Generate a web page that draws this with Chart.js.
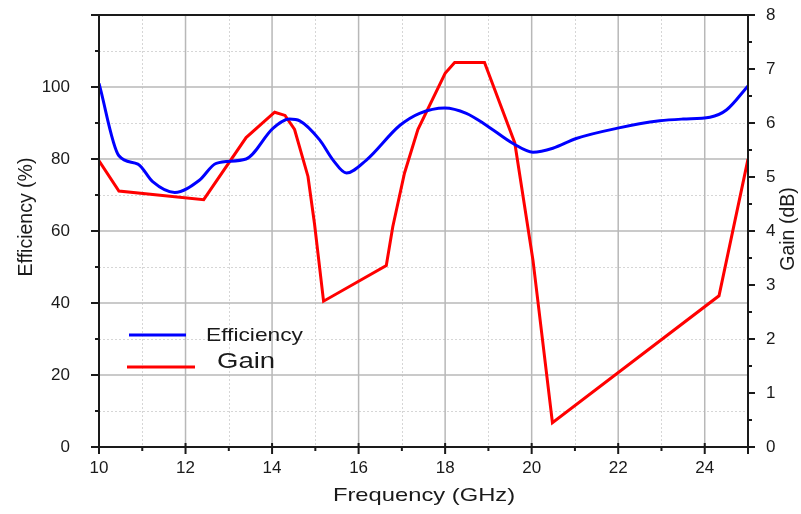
<!DOCTYPE html>
<html>
<head>
<meta charset="utf-8">
<script src="https://cdn.jsdelivr.net/npm/chart.js@4.4.0/dist/chart.umd.min.js"></script>
<style>
  html, body { margin: 0; padding: 0; background: #fff; }
  #wrap { width: 801px; height: 514px; position: relative; }
</style>
</head>
<body>
<div id="wrap"><canvas id="grafica"></canvas></div>
<script>
// Valores
const freqEficiencia = [10, 10.46, 10.9, 11.24, 11.75, 12.32, 12.71, 13.4, 14.02, 14.4, 14.64, 15.1, 15.41, 15.72, 16.18, 16.95, 17.41, 17.99, 18.49, 18.95, 19.57, 20.03, 20.49, 21.03, 21.96, 22.96, 23.5, 24.12, 24.5, 25];
const eficiencia = [101, 80.9, 78.6, 73.7, 70.7, 74.1, 78.8, 80.0, 88.5, 91.1, 90.6, 85.3, 79.7, 76.1, 79.7, 89.3, 92.7, 94.2, 92.7, 89.4, 84.3, 81.9, 83.0, 85.7, 88.5, 90.6, 91.1, 91.6, 93.6, 100.3];

const freqGanancia = [10, 10.46, 12.42, 13.4, 14.06, 14.3, 14.52, 14.83, 14.98, 15.19, 16.64, 16.79, 17.06, 17.37, 18.0, 18.22, 18.91, 19.61, 20.03, 20.48, 24.33, 25];
const ganancia = [5.30, 4.74, 4.58, 5.73, 6.20, 6.14, 5.88, 5.01, 4.14, 2.70, 3.36, 4.08, 5.07, 5.88, 6.92, 7.12, 7.12, 5.63, 3.46, 0.45, 2.80, 5.33];

const ticksX = [10, 12, 14, 16, 18, 20, 22, 24];
const ticksEficiencia = [0, 20, 40, 60, 80, 100];
const ticksGanancia = [0, 1, 2, 3, 4, 5, 6, 7, 8];

const fuente = '"Liberation Sans", Arial, sans-serif';
const colorTexto = '#1a1a1a';

function linea(ctx, x1, y1, x2, y2) {
    ctx.beginPath();
    ctx.moveTo(x1, y1);
    ctx.lineTo(x2, y2);
    ctx.stroke();
}

// texto estirado en horizontal como en la imagen original
function texto(ctx, t, x, y, size, estirar, rot, align) {
    ctx.save();
    ctx.translate(x, y);
    if (rot) ctx.rotate(rot);
    ctx.scale(estirar, 1);
    ctx.font = size + 'px ' + fuente;
    ctx.fillStyle = colorTexto;
    ctx.textAlign = align || 'center';
    ctx.textBaseline = 'alphabetic';
    ctx.fillText(t, 0, 0);
    ctx.restore();
}

// rejilla, marco, marcas, titulos y leyenda
const marco = {
    id: 'marco',
    beforeDatasetsDraw(chart) {
        const { ctx, chartArea: a, scales } = chart;
        const x = scales.x, y = scales.y;
        ctx.save();
        ctx.lineWidth = 1;
        ctx.strokeStyle = '#d6d6d6';
        ctx.setLineDash([2, 2]);
        for (let v = 11; v < 25; v += 2) {
            const px = Math.round(x.getPixelForValue(v)) + 0.5;
            linea(ctx, px, a.top, px, a.bottom);
        }
        for (let v = 10; v < 120; v += 20) {
            const py = Math.round(y.getPixelForValue(v)) + 0.5;
            linea(ctx, a.left, py, a.right, py);
        }
        ctx.setLineDash([]);
        ctx.strokeStyle = '#b8b8b8';
        ctx.lineWidth = 1.5;
        for (let v = 12; v < 25; v += 2) {
            const px = x.getPixelForValue(v);
            linea(ctx, px, a.top, px, a.bottom);
        }
        for (let v = 20; v <= 100; v += 20) {
            const py = y.getPixelForValue(v);
            linea(ctx, a.left, py, a.right, py);
        }
        ctx.restore();
    },
    afterDatasetsDraw(chart) {
        const { ctx, chartArea: a, scales } = chart;
        const x = scales.x, y = scales.y, y1 = scales.y1;
        ctx.save();
        ctx.strokeStyle = '#1a1a1a';
        ctx.lineWidth = 2;
        // ejes
        linea(ctx, a.left - 8, a.top, a.right, a.top);
        linea(ctx, a.left - 8, a.bottom, a.right, a.bottom);
        linea(ctx, a.left, a.top, a.left, a.bottom + 7);
        linea(ctx, a.right, a.top, a.right, a.bottom + 7);
        // marcas eje x
        for (let v = 10; v <= 25; v++) {
            const px = x.getPixelForValue(v);
            linea(ctx, px, a.bottom - (v % 2 === 0 ? 4 : 0), px, a.bottom + (v % 2 === 0 ? 7 : 4));
        }
        // marcas eje izquierdo
        for (let v = 0; v <= 120; v += 10) {
            const py = y.getPixelForValue(v);
            linea(ctx, a.left - (v % 20 === 0 ? 8 : 4), py, a.left, py);
        }
        // marcas eje derecho
        for (let v = 0; v <= 8; v += 0.5) {
            const py = y1.getPixelForValue(v);
            linea(ctx, a.right, py, a.right + (v % 1 === 0 ? 7 : 4), py);
        }
        ctx.restore();

        // titulos de ejes
        texto(ctx, 'Frequency (GHz)', 424, 501, 19, 1.25, 0);
        texto(ctx, 'Efficiency (%)', 32, 217, 19.5, 1, -Math.PI / 2);
        texto(ctx, 'Gain (dB)', 794, 229, 19.5, 1, -Math.PI / 2);

        // leyenda
        ctx.save();
        ctx.lineWidth = 3;
        ctx.strokeStyle = '#0000ff';
        linea(ctx, 129, 335, 186, 335);
        ctx.strokeStyle = '#ff0000';
        linea(ctx, 127, 367, 195, 367);
        ctx.restore();
        texto(ctx, 'Efficiency', 206, 341, 18.5, 1.23, 0, 'left');
        texto(ctx, 'Gain', 217, 368, 21.5, 1.28, 0, 'left');
    }
};

const datosGrafica = {
    datasets: [{
        label: 'Efficiency',
        data: freqEficiencia.map((f, i) => ({ x: f, y: eficiencia[i] })),
        borderColor: '#0000ff',
        backgroundColor: '#0000ff',
        borderWidth: 3,
        pointRadius: 0,
        cubicInterpolationMode: 'monotone',
        yAxisID: 'y'
    }, {
        label: 'Gain',
        data: freqGanancia.map((f, i) => ({ x: f, y: ganancia[i] })),
        borderColor: '#ff0000',
        backgroundColor: '#ff0000',
        borderWidth: 3,
        pointRadius: 0,
        tension: 0,
        yAxisID: 'y1'
    }]
};

const fuenteTicks = { family: fuente, size: 17 };

// quitar el relleno automatico de las etiquetas para fijar el area
function ajusteVertical(ancho) {
    return s => {
        s.width = ancho;
        s.paddingTop = 0;
        s.paddingBottom = 0;
    };
}

const configGrafica = {
    type: 'line',
    data: datosGrafica,
    options: {
        responsive: true,
        maintainAspectRatio: false,
        animation: false,
        layout: { padding: { top: 15, left: 0, right: 0, bottom: 0 } },
        plugins: {
            legend: { display: false },
            tooltip: { enabled: false }
        },
        scales: {
            x: {
                type: 'linear',
                min: 10,
                max: 25,
                grid: { display: false },
                border: { display: false },
                ticks: {
                    stepSize: 2,
                    includeBounds: false,
                    autoSkip: false,
                    maxRotation: 0,
                    padding: 3,
                    color: colorTexto,
                    font: fuenteTicks,
                    callback: v => ticksX.includes(v) ? v : ''
                },
                afterFit: s => {
                    s.height = 67;
                    s.paddingLeft = 0;
                    s.paddingRight = 0;
                }
            },
            y: {
                position: 'left',
                min: 0,
                max: 120,
                grid: { display: false },
                border: { display: false },
                ticks: {
                    stepSize: 20,
                    padding: 21,
                    color: colorTexto,
                    font: fuenteTicks,
                    callback: v => ticksEficiencia.includes(v) ? v : ''
                },
                afterFit: ajusteVertical(99)
            },
            y1: {
                position: 'right',
                min: 0,
                max: 8,
                grid: { display: false },
                border: { display: false },
                ticks: {
                    stepSize: 1,
                    padding: 10,
                    color: colorTexto,
                    font: fuenteTicks,
                    callback: v => ticksGanancia.includes(v) ? v : ''
                },
                afterFit: ajusteVertical(53)
            }
        }
    },
    plugins: [marco]
};

var grafica = new Chart(document.getElementById('grafica'), configGrafica);
</script>
</body>
</html>
